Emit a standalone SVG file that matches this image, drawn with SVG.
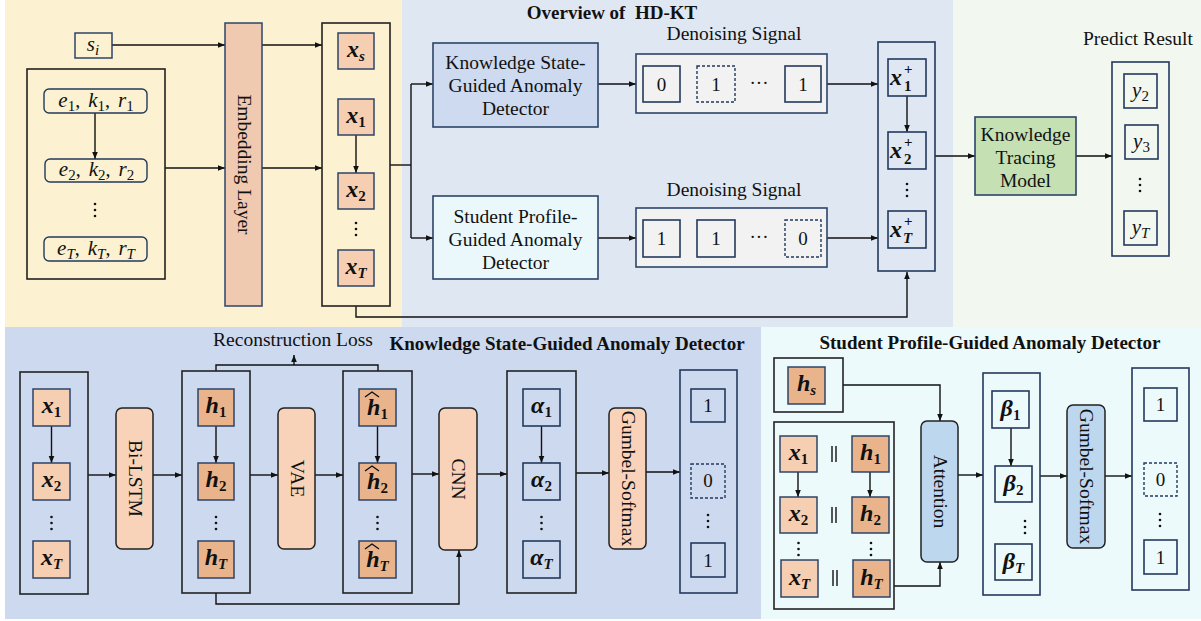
<svg xmlns="http://www.w3.org/2000/svg" width="1201" height="621" viewBox="0 0 1201 621">
<defs>
<marker id="ah" viewBox="0 0 10 10" refX="10" refY="5" markerWidth="7" markerHeight="7" markerUnits="userSpaceOnUse" orient="auto">
<path d="M0,1 L10,5 L0,9 Z" fill="#111"/>
</marker>
<style>
text{font-family:"Liberation Serif","Times New Roman",serif;fill:#111}
.lbl{font-size:19.5px}
.ttl{font-size:19px;font-weight:bold}
.mi{font-style:italic;font-size:21px}
.mb{font-style:italic;font-weight:bold;font-size:24px}
.sub{font-size:15px}
.num{font-size:19px}
.ln{fill:none;stroke:#111;stroke-width:1.4}
.arr{fill:none;stroke:#111;stroke-width:1.4;marker-end:url(#ah)}
.frame{fill:none;stroke:#222;stroke-width:1.6}
.nframe{fill:none;stroke:#23395d;stroke-width:1.6}
.xb{fill:#f6ceb1;stroke:#2c4468;stroke-width:1.5}
.hb{fill:#e9b48c;stroke:#2c4468;stroke-width:1.5}
.wb{fill:none;stroke:#23395d;stroke-width:1.6}
.db{fill:none;stroke:#23395d;stroke-width:1.4;stroke-dasharray:3,2}
.op{fill:#f8d3b9;stroke:#222;stroke-width:1.5}
.opb{fill:#bdd7ee;stroke:#222;stroke-width:1.5}
.dot{fill:#111}
</style>
</defs>

<!-- background panels -->
<g id="panels">
<rect x="5" y="0" width="397" height="327" fill="#fcf1d1"/>
<rect x="402" y="0" width="551" height="327" fill="#dfe7f2"/>
<rect x="953" y="0" width="248" height="327" fill="#f2f7f0"/>
<rect x="5" y="327" width="756" height="292" fill="#ccd9ef"/>
<rect x="761" y="327" width="440" height="292" fill="#edfafc"/>
</g>

<!-- connectors -->
<g id="connectors">
<!-- top row -->
<path class="arr" d="M112,45 H225"/>
<path class="arr" d="M165,168 H225"/>
<path class="arr" d="M262,45 H322"/>
<path class="arr" d="M262,168 H322"/>
<path class="arr" d="M95,113 V159"/>
<path class="arr" d="M356,135 V173"/>
<path class="ln" d="M390,165 H411"/>
<path class="ln" d="M411,84 V238"/>
<path class="arr" d="M411,84 H433"/>
<path class="arr" d="M411,238 H433"/>
<path class="arr" d="M598,84 H636"/>
<path class="arr" d="M598,238 H636"/>
<path class="arr" d="M827,84 H878"/>
<path class="arr" d="M827,238 H878"/>
<path class="arr" d="M907,96 V132"/>
<path class="arr" d="M356,306 V317 H907 V272"/>
<path class="arr" d="M935,156 H975"/>
<path class="arr" d="M1076,156 H1112"/>
<!-- knowledge state-guided detector -->
<path class="arr" d="M51.5,426 V463"/>
<path class="arr" d="M216,426 V463"/>
<path class="arr" d="M377.5,426 V463"/>
<path class="arr" d="M541.5,426 V463"/>
<path class="arr" d="M88,475 H116"/>
<path class="arr" d="M153,475 H182"/>
<path class="arr" d="M250,475 H278"/>
<path class="arr" d="M315,475 H343"/>
<path class="arr" d="M412,474 H439"/>
<path class="arr" d="M477,474 H507"/>
<path class="arr" d="M576,473 H609"/>
<path class="arr" d="M646,472 H680"/>
<path class="ln" d="M216,371 V365 H378 V371"/>
<path class="arr" d="M294,365 V355"/>
<path class="arr" d="M216,593 V604 H459 V550"/>
<!-- student profile-guided detector -->
<path class="arr" d="M798,472 V497"/>
<path class="arr" d="M870,472 V497"/>
<path class="arr" d="M843,385 H940 V421"/>
<path class="arr" d="M894,586 H940 V562"/>
<path class="arr" d="M958,475 H983"/>
<path class="arr" d="M1011,428 V466"/>
<path class="arr" d="M1040,476 H1067"/>
<path class="arr" d="M1105,476 H1132"/>
</g>

<!-- titles and free labels -->
<g id="labels">
<text class="ttl" x="612" y="19" text-anchor="middle" xml:space="preserve">Overview of  HD-KT</text>
<text class="lbl" x="734" y="40" text-anchor="middle">Denoising Signal</text>
<text class="lbl" x="734" y="196" text-anchor="middle">Denoising Signal</text>
<text class="lbl" x="1138" y="45" text-anchor="middle">Predict Result</text>
<text class="lbl" x="293" y="346" text-anchor="middle">Reconstruction Loss</text>
<text class="ttl" x="567" y="350" text-anchor="middle">Knowledge State-Guided Anomaly Detector</text>
<text class="ttl" x="990" y="349" text-anchor="middle">Student Profile-Guided Anomaly Detector</text>
</g>

<!-- input: student id -->
<g id="node-si">
<rect x="75" y="33" width="37" height="25" fill="none" stroke="#2c4468" stroke-width="1.5"/>
<text x="93" y="51" text-anchor="middle"><tspan class="mi">s</tspan><tspan class="sub" font-style="italic" dy="4">i</tspan></text>
</g>

<!-- input: interaction sequence -->
<g id="node-seq">
<rect class="frame" x="27" y="69" width="138" height="210"/>
<rect x="44" y="89" width="103" height="24" rx="5" fill="none" stroke="#23395d" stroke-width="1.4"/>
<rect x="45" y="159" width="102" height="23" rx="5" fill="none" stroke="#23395d" stroke-width="1.4"/>
<rect x="44" y="237" width="103" height="24" rx="5" fill="none" stroke="#23395d" stroke-width="1.4"/>
<text x="96" y="107" text-anchor="middle"><tspan class="mi">e</tspan><tspan class="sub" dy="4">1</tspan><tspan dy="-4" font-size="20">,</tspan><tspan class="mi" dx="8">k</tspan><tspan class="sub" dy="4">1</tspan><tspan dy="-4" font-size="20">,</tspan><tspan class="mi" dx="8">r</tspan><tspan class="sub" dy="4">1</tspan></text>
<text x="96.5" y="176" text-anchor="middle"><tspan class="mi">e</tspan><tspan class="sub" dy="4">2</tspan><tspan dy="-4" font-size="20">,</tspan><tspan class="mi" dx="8">k</tspan><tspan class="sub" dy="4">2</tspan><tspan dy="-4" font-size="20">,</tspan><tspan class="mi" dx="8">r</tspan><tspan class="sub" dy="4">2</tspan></text>
<text x="96" y="255" text-anchor="middle"><tspan class="mi">e</tspan><tspan class="sub" font-style="italic" dy="4">T</tspan><tspan dy="-4" font-size="20">,</tspan><tspan class="mi" dx="8">k</tspan><tspan class="sub" font-style="italic" dy="4">T</tspan><tspan dy="-4" font-size="20">,</tspan><tspan class="mi" dx="8">r</tspan><tspan class="sub" font-style="italic" dy="4">T</tspan></text>
<circle class="dot" cx="95" cy="204" r="1.3"/><circle class="dot" cx="95" cy="210" r="1.3"/><circle class="dot" cx="95" cy="216" r="1.3"/>
</g>

<g id="node-embedding">
<rect x="225" y="23" width="37" height="283" fill="#efcab0" stroke="#2c4468" stroke-width="1.5"/>
<text class="lbl" transform="translate(243.5,164.5) rotate(90)" text-anchor="middle" dy="6">Embedding Layer</text>
</g>

<g id="node-embeds">
<rect class="frame" x="322" y="23" width="68" height="283"/>
<rect class="xb" x="338" y="33" width="36" height="36"/>
<rect class="xb" x="338" y="99" width="36" height="36"/>
<rect class="xb" x="338" y="173" width="36" height="36"/>
<rect class="xb" x="338" y="250" width="36" height="36"/>
<text x="356" y="57" text-anchor="middle"><tspan class="mb">x</tspan><tspan class="sub" font-style="italic" font-weight="bold" dy="4">s</tspan></text>
<text x="356" y="123" text-anchor="middle"><tspan class="mb">x</tspan><tspan class="sub" font-weight="bold" dy="4">1</tspan></text>
<text x="356" y="197" text-anchor="middle"><tspan class="mb">x</tspan><tspan class="sub" font-weight="bold" dy="4">2</tspan></text>
<text x="356" y="274" text-anchor="middle"><tspan class="mb">x</tspan><tspan class="sub" font-style="italic" font-weight="bold" dy="4">T</tspan></text>
<circle class="dot" cx="356" cy="223" r="1.3"/><circle class="dot" cx="356" cy="229" r="1.3"/><circle class="dot" cx="356" cy="235" r="1.3"/>
</g>

<g id="node-ksgad">
<rect x="433" y="43" width="165" height="84" fill="#cddaf0" stroke="#2c4468" stroke-width="1.6"/>
<text class="lbl" x="515.5" y="69" text-anchor="middle">Knowledge State-</text>
<text class="lbl" x="515.5" y="92" text-anchor="middle">Guided Anomaly</text>
<text class="lbl" x="515.5" y="115" text-anchor="middle">Detector</text>
</g>

<g id="node-spgad">
<rect x="433" y="196" width="165" height="83" fill="#eaf8fb" stroke="#2c4468" stroke-width="1.6"/>
<text class="lbl" x="515.5" y="223" text-anchor="middle">Student Profile-</text>
<text class="lbl" x="515.5" y="246" text-anchor="middle">Guided Anomaly</text>
<text class="lbl" x="515.5" y="269" text-anchor="middle">Detector</text>
</g>

<g id="node-signal-ks">
<rect x="636" y="54" width="191" height="59" fill="#f2f2f2" stroke="#2c4468" stroke-width="1.6"/>
<rect class="wb" x="643" y="66" width="37" height="36"/>
<rect class="db" x="697" y="66" width="38" height="36"/>
<rect class="wb" x="785" y="66" width="36" height="36"/>
<text class="num" x="661.5" y="91" text-anchor="middle">0</text>
<text class="num" x="716" y="91" text-anchor="middle">1</text>
<text class="num" x="759" y="89" text-anchor="middle">···</text>
<text class="num" x="803" y="91" text-anchor="middle">1</text>
</g>

<g id="node-signal-sp">
<rect x="636" y="208" width="191" height="59" fill="#f2f2f2" stroke="#2c4468" stroke-width="1.6"/>
<rect class="wb" x="643" y="220" width="37" height="37"/>
<rect class="wb" x="697" y="220" width="38" height="37"/>
<rect class="db" x="785" y="220" width="36" height="37"/>
<text class="num" x="661.5" y="245" text-anchor="middle">1</text>
<text class="num" x="716" y="245" text-anchor="middle">1</text>
<text class="num" x="759" y="243" text-anchor="middle">···</text>
<text class="num" x="803" y="245" text-anchor="middle">0</text>
</g>

<g id="node-denoised">
<rect class="nframe" x="878" y="42" width="57" height="229"/>
<rect class="wb" x="888" y="59" width="38" height="37"/>
<rect class="wb" x="888" y="132" width="38" height="37"/>
<rect class="wb" x="888" y="211" width="38" height="37"/>
<text class="mb" x="890" y="85">x</text><text class="sub" font-weight="bold" x="904" y="74">+</text><text class="sub" font-weight="bold" x="904" y="91">1</text>
<text class="mb" x="890" y="158">x</text><text class="sub" font-weight="bold" x="904" y="147">+</text><text class="sub" font-weight="bold" x="904" y="164">2</text>
<text class="mb" x="890" y="237">x</text><text class="sub" font-weight="bold" x="904" y="226">+</text><text class="sub" font-weight="bold" font-style="italic" x="903" y="243">T</text>
<circle class="dot" cx="907" cy="184" r="1.3"/><circle class="dot" cx="907" cy="190" r="1.3"/><circle class="dot" cx="907" cy="196" r="1.3"/>
</g>

<g id="node-kt">
<rect x="975" y="117" width="101" height="78" fill="#c5e0b3" stroke="#2c4468" stroke-width="1.6"/>
<text class="lbl" x="1025.5" y="141" text-anchor="middle">Knowledge</text>
<text class="lbl" x="1025.5" y="164" text-anchor="middle">Tracing</text>
<text class="lbl" x="1025.5" y="187" text-anchor="middle">Model</text>
</g>

<g id="node-predict">
<rect class="nframe" x="1112" y="62" width="57" height="194"/>
<rect class="wb" x="1124" y="74" width="33" height="34"/>
<rect class="wb" x="1125" y="125" width="33" height="34"/>
<rect class="wb" x="1124" y="211" width="33" height="34"/>
<text x="1140.5" y="97" text-anchor="middle"><tspan class="mi">y</tspan><tspan class="sub" dy="4">2</tspan></text>
<text x="1141.5" y="148" text-anchor="middle"><tspan class="mi">y</tspan><tspan class="sub" dy="4">3</tspan></text>
<text x="1140.5" y="234" text-anchor="middle"><tspan class="mi">y</tspan><tspan class="sub" font-style="italic" dy="4">T</tspan></text>
<circle class="dot" cx="1140" cy="179" r="1.3"/><circle class="dot" cx="1140" cy="185" r="1.3"/><circle class="dot" cx="1140" cy="191" r="1.3"/>
</g>

<!-- knowledge state-guided anomaly detector -->
<g id="node-ks-x">
<rect class="frame" x="20" y="372" width="68" height="222"/>
<rect class="xb" x="33" y="389" width="37" height="37"/>
<rect class="xb" x="33" y="463" width="37" height="37"/>
<rect class="xb" x="33" y="541" width="37" height="37"/>
<text x="51.5" y="413" text-anchor="middle"><tspan class="mb">x</tspan><tspan class="sub" font-weight="bold" dy="4">1</tspan></text>
<text x="51.5" y="487" text-anchor="middle"><tspan class="mb">x</tspan><tspan class="sub" font-weight="bold" dy="4">2</tspan></text>
<text x="51.5" y="565" text-anchor="middle"><tspan class="mb">x</tspan><tspan class="sub" font-style="italic" font-weight="bold" dy="4">T</tspan></text>
<circle class="dot" cx="51.5" cy="517" r="1.3"/><circle class="dot" cx="51.5" cy="523" r="1.3"/><circle class="dot" cx="51.5" cy="529" r="1.3"/>
</g>

<g id="node-bilstm">
<rect class="op" x="116" y="408" width="37" height="141" rx="6"/>
<text class="lbl" transform="translate(134.5,478.5) rotate(90)" text-anchor="middle" dy="6">Bi-LSTM</text>
</g>

<g id="node-ks-h">
<rect class="frame" x="182" y="371" width="68" height="222"/>
<rect class="hb" x="198" y="389" width="36" height="37"/>
<rect class="hb" x="198" y="463" width="36" height="37"/>
<rect class="hb" x="198" y="541" width="36" height="37"/>
<text x="216" y="413" text-anchor="middle"><tspan class="mb">h</tspan><tspan class="sub" font-weight="bold" dy="4">1</tspan></text>
<text x="216" y="487" text-anchor="middle"><tspan class="mb">h</tspan><tspan class="sub" font-weight="bold" dy="4">2</tspan></text>
<text x="216" y="565" text-anchor="middle"><tspan class="mb">h</tspan><tspan class="sub" font-style="italic" font-weight="bold" dy="4">T</tspan></text>
<circle class="dot" cx="216" cy="517" r="1.3"/><circle class="dot" cx="216" cy="523" r="1.3"/><circle class="dot" cx="216" cy="529" r="1.3"/>
</g>

<g id="node-vae">
<rect class="op" x="278" y="408" width="37" height="141" rx="6"/>
<text class="lbl" transform="translate(296.5,478.5) rotate(90)" text-anchor="middle" dy="6">VAE</text>
</g>

<g id="node-ks-hhat">
<rect class="frame" x="343" y="371" width="69" height="222"/>
<rect class="hb" x="359" y="389" width="37" height="37"/>
<rect class="hb" x="359" y="463" width="37" height="37"/>
<rect class="hb" x="359" y="541" width="37" height="37"/>
<text x="377.5" y="415" text-anchor="middle"><tspan class="mb">h</tspan><tspan class="sub" font-weight="bold" dy="4">1</tspan></text>
<text x="377.5" y="489" text-anchor="middle"><tspan class="mb">h</tspan><tspan class="sub" font-weight="bold" dy="4">2</tspan></text>
<text x="377.5" y="567" text-anchor="middle"><tspan class="mb">h</tspan><tspan class="sub" font-style="italic" font-weight="bold" dy="4">T</tspan></text>
<path class="ln" stroke-width="1.3" d="M365,397 L372,392 L379,397"/>
<path class="ln" stroke-width="1.3" d="M365,471 L372,466 L379,471"/>
<path class="ln" stroke-width="1.3" d="M365,549 L372,544 L379,549"/>
<circle class="dot" cx="377.5" cy="517" r="1.3"/><circle class="dot" cx="377.5" cy="523" r="1.3"/><circle class="dot" cx="377.5" cy="529" r="1.3"/>
</g>

<g id="node-cnn">
<rect class="op" x="439" y="408" width="38" height="142" rx="6"/>
<text class="lbl" transform="translate(458,479) rotate(90)" text-anchor="middle" dy="6">CNN</text>
</g>

<g id="node-ks-alpha">
<rect class="frame" x="507" y="371" width="69" height="222"/>
<rect class="wb" x="523" y="389" width="37" height="37"/>
<rect class="wb" x="523" y="463" width="37" height="37"/>
<rect class="wb" x="523" y="541" width="37" height="37"/>
<text x="541.5" y="413" text-anchor="middle"><tspan class="mb">α</tspan><tspan class="sub" font-weight="bold" dy="4">1</tspan></text>
<text x="541.5" y="487" text-anchor="middle"><tspan class="mb">α</tspan><tspan class="sub" font-weight="bold" dy="4">2</tspan></text>
<text x="541.5" y="565" text-anchor="middle"><tspan class="mb">α</tspan><tspan class="sub" font-style="italic" font-weight="bold" dy="4">T</tspan></text>
<circle class="dot" cx="541.5" cy="517" r="1.3"/><circle class="dot" cx="541.5" cy="523" r="1.3"/><circle class="dot" cx="541.5" cy="529" r="1.3"/>
</g>

<g id="node-ks-gumbel">
<rect class="op" x="609" y="408" width="37" height="141" rx="6"/>
<text class="lbl" transform="translate(627.5,478.5) rotate(90)" text-anchor="middle" dy="6">Gumbel-Softmax</text>
</g>

<g id="node-ks-out">
<rect class="nframe" x="680" y="370" width="57" height="223"/>
<rect class="wb" x="691" y="389" width="34" height="33"/>
<rect class="db" x="691" y="464" width="34" height="34"/>
<rect class="wb" x="691" y="543" width="34" height="34"/>
<text class="num" x="708" y="412" text-anchor="middle">1</text>
<text class="num" x="708" y="487" text-anchor="middle">0</text>
<text class="num" x="708" y="567" text-anchor="middle">1</text>
<circle class="dot" cx="708" cy="515" r="1.3"/><circle class="dot" cx="708" cy="521" r="1.3"/><circle class="dot" cx="708" cy="527" r="1.3"/>
</g>

<!-- student profile-guided anomaly detector -->
<g id="node-sp-hs">
<rect class="frame" x="774" y="358" width="69" height="54"/>
<rect class="hb" x="788" y="367" width="37" height="37"/>
<text x="806.5" y="391" text-anchor="middle"><tspan class="mb">h</tspan><tspan class="sub" font-style="italic" font-weight="bold" dy="4">s</tspan></text>
</g>

<g id="node-sp-seq">
<rect class="frame" x="774" y="422" width="120" height="187"/>
<rect class="xb" x="780" y="436" width="37" height="36"/>
<rect class="xb" x="780" y="497" width="37" height="36"/>
<rect class="xb" x="781" y="560" width="37" height="37"/>
<rect class="hb" x="852" y="436" width="37" height="36"/>
<rect class="hb" x="852" y="497" width="37" height="36"/>
<rect class="hb" x="853" y="560" width="37" height="37"/>
<text x="798.5" y="460" text-anchor="middle"><tspan class="mb">x</tspan><tspan class="sub" font-weight="bold" dy="4">1</tspan></text>
<text x="798.5" y="521" text-anchor="middle"><tspan class="mb">x</tspan><tspan class="sub" font-weight="bold" dy="4">2</tspan></text>
<text x="799.5" y="585" text-anchor="middle"><tspan class="mb">x</tspan><tspan class="sub" font-style="italic" font-weight="bold" dy="4">T</tspan></text>
<text x="870.5" y="460" text-anchor="middle"><tspan class="mb">h</tspan><tspan class="sub" font-weight="bold" dy="4">1</tspan></text>
<text x="870.5" y="521" text-anchor="middle"><tspan class="mb">h</tspan><tspan class="sub" font-weight="bold" dy="4">2</tspan></text>
<text x="871.5" y="585" text-anchor="middle"><tspan class="mb">h</tspan><tspan class="sub" font-style="italic" font-weight="bold" dy="4">T</tspan></text>
<path class="ln" stroke-width="1.2" d="M832,446 V462 M836,446 V462 M832,507 V523 M836,507 V523 M833,570 V586 M837,570 V586"/>
<circle class="dot" cx="798.5" cy="543" r="1.3"/><circle class="dot" cx="798.5" cy="549" r="1.3"/><circle class="dot" cx="798.5" cy="555" r="1.3"/>
<circle class="dot" cx="871" cy="543" r="1.3"/><circle class="dot" cx="871" cy="549" r="1.3"/><circle class="dot" cx="871" cy="555" r="1.3"/>
</g>

<g id="node-attention">
<rect class="opb" x="921" y="421" width="37" height="141" rx="6"/>
<text class="lbl" transform="translate(939.5,491.5) rotate(90)" text-anchor="middle" dy="6">Attention</text>
</g>

<g id="node-sp-beta">
<rect class="nframe" x="983" y="373" width="57" height="222"/>
<rect class="wb" x="992" y="391" width="37" height="37"/>
<rect class="wb" x="995" y="466" width="37" height="36"/>
<rect class="wb" x="995" y="544" width="37" height="36"/>
<text x="1010.5" y="416" text-anchor="middle"><tspan class="mb">β</tspan><tspan class="sub" font-weight="bold" dy="4">1</tspan></text>
<text x="1013.5" y="491" text-anchor="middle"><tspan class="mb">β</tspan><tspan class="sub" font-weight="bold" dy="4">2</tspan></text>
<text x="1013.5" y="569" text-anchor="middle"><tspan class="mb">β</tspan><tspan class="sub" font-style="italic" font-weight="bold" dy="4">T</tspan></text>
<circle class="dot" cx="1025" cy="521" r="1.3"/><circle class="dot" cx="1025" cy="527" r="1.3"/><circle class="dot" cx="1025" cy="533" r="1.3"/>
</g>

<g id="node-sp-gumbel">
<rect class="opb" x="1067" y="405" width="38" height="143" rx="6"/>
<text class="lbl" transform="translate(1086,476.5) rotate(90)" text-anchor="middle" dy="6">Gumbel-Softmax</text>
</g>

<g id="node-sp-out">
<rect class="nframe" x="1132" y="368" width="57" height="222"/>
<rect class="wb" x="1144" y="388" width="33" height="33"/>
<rect class="db" x="1144" y="463" width="33" height="33"/>
<rect class="wb" x="1144" y="540" width="33" height="34"/>
<text class="num" x="1160.5" y="411" text-anchor="middle">1</text>
<text class="num" x="1160.5" y="486" text-anchor="middle">0</text>
<text class="num" x="1160.5" y="564" text-anchor="middle">1</text>
<circle class="dot" cx="1160" cy="514" r="1.3"/><circle class="dot" cx="1160" cy="520" r="1.3"/><circle class="dot" cx="1160" cy="526" r="1.3"/>
</g>
</svg>
